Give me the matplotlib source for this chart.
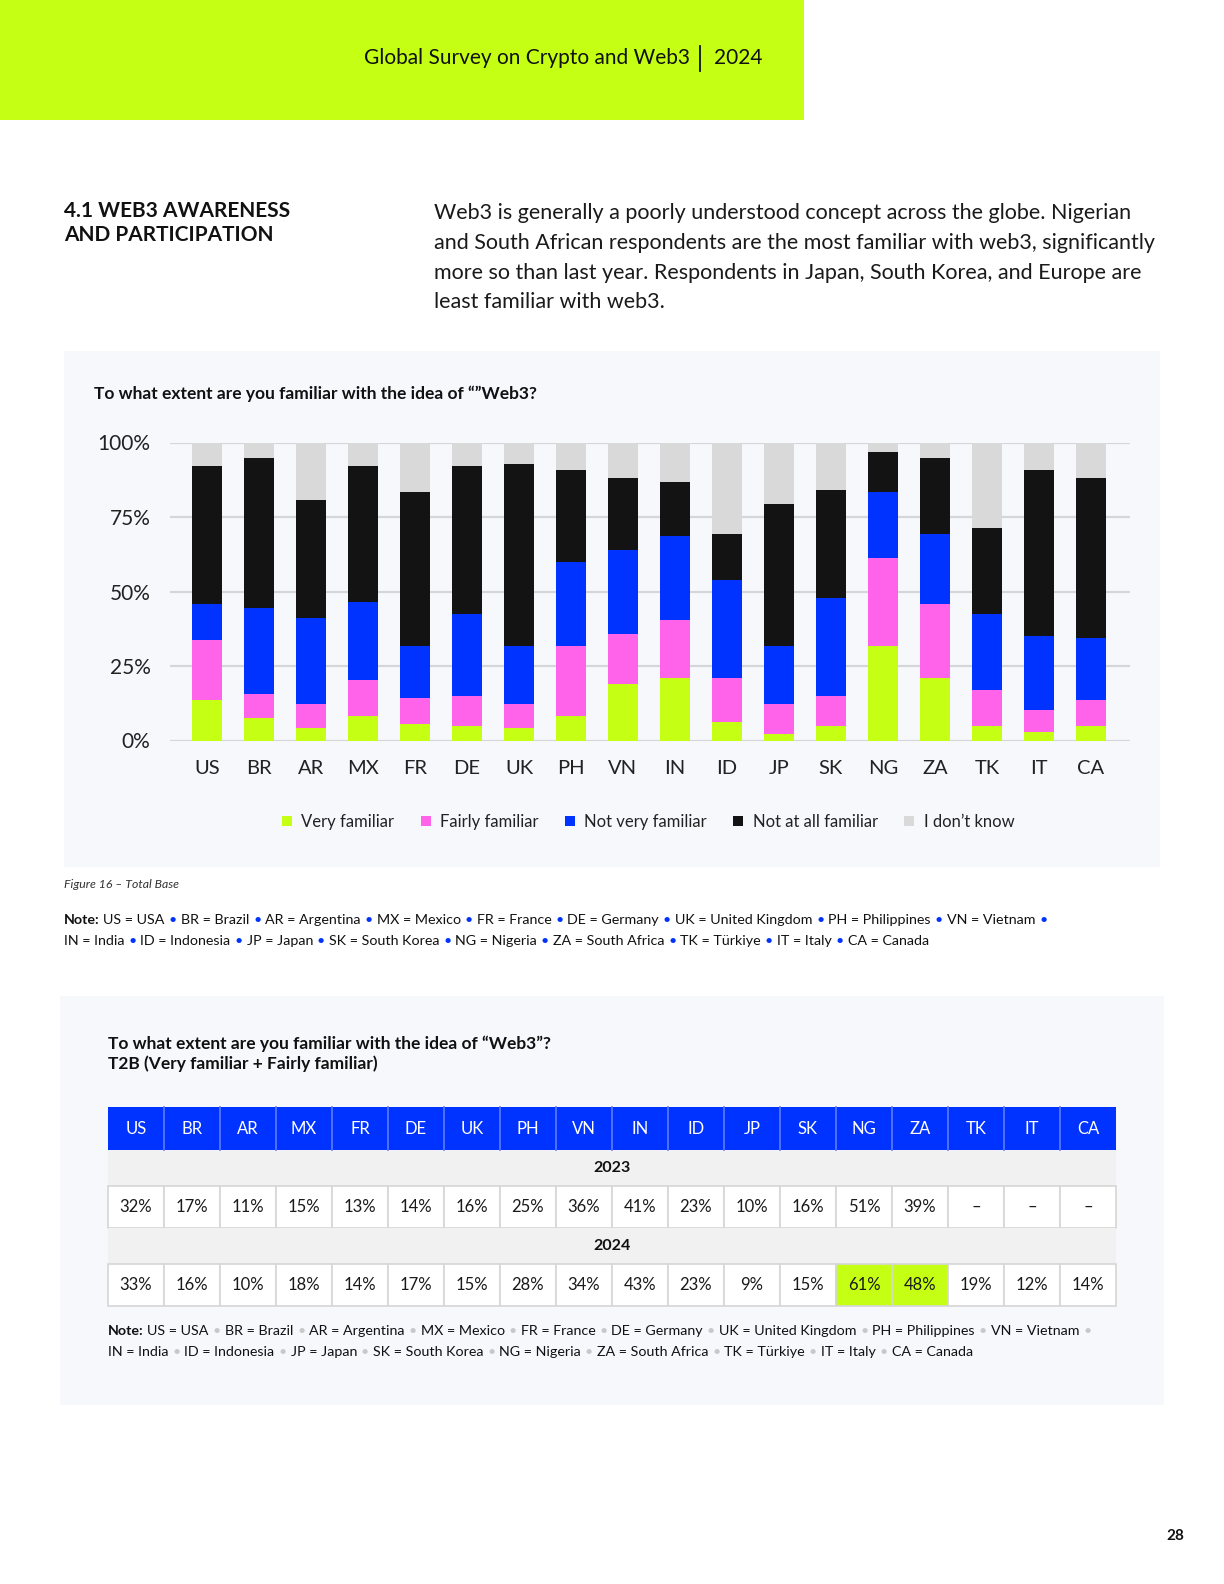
import numpy as np
import matplotlib
matplotlib.use("Agg")
from matplotlib import pyplot as plt
from matplotlib.patches import Rectangle

plt.rcParams['font.family'] = ['Lato', 'DejaVu Sans']

# data (percent of respondents)
countries = ['US', 'BR', 'AR', 'MX', 'FR', 'DE', 'UK', 'PH', 'VN',
             'IN', 'ID', 'JP', 'SK', 'NG', 'ZA', 'TK', 'IT', 'CA']
very_familiar = [13.6, 7.6, 4.3, 8.3, 5.6, 4.9, 4.3, 8.3, 19.0,
                 21.0, 6.3, 2.2, 4.9, 31.8, 21.0, 4.9, 2.9, 4.9]
fairly_familiar = [20.2, 8.1, 8.0, 12.1, 8.7, 10.1, 8.0, 23.5, 16.8,
                   19.5, 14.7, 10.1, 10.1, 29.5, 24.9, 12.1, 7.4, 8.7]
not_very_familiar = [12.1, 28.8, 28.9, 26.1, 17.5, 27.5, 19.5, 28.2, 28.2,
                     28.2, 32.9, 19.5, 32.9, 22.1, 23.5, 25.5, 24.8, 20.9]
not_at_all_familiar = [46.3, 50.4, 39.6, 45.7, 51.6, 49.7, 61.0, 30.8, 24.1,
                       18.1, 15.5, 47.6, 36.2, 13.5, 25.5, 28.9, 55.7, 53.6]
dont_know = [7.8, 5.1, 19.2, 7.8, 16.6, 7.8, 7.2, 9.2, 11.9,
             13.2, 30.6, 20.6, 15.9, 3.1, 5.1, 28.6, 9.2, 11.9]
series_names = ['Very familiar', 'Fairly familiar', 'Not very familiar',
                'Not at all familiar', 'I don\u2019t know']

t2b_2023 = ['32%', '17%', '11%', '15%', '13%', '14%', '16%', '25%', '36%',
            '41%', '23%', '10%', '16%', '51%', '39%', '\u2013', '\u2013', '\u2013']
t2b_2024 = ['33%', '16%', '10%', '18%', '14%', '17%', '15%', '28%', '34%',
            '43%', '23%', '9%', '15%', '61%', '48%', '19%', '12%', '14%']
highlight_2024 = ['NG', 'ZA']

note_line1 = ['US = USA', 'BR = Brazil', 'AR = Argentina', 'MX = Mexico', 'FR = France',
              'DE = Germany', 'UK = United Kingdom', 'PH = Philippines', 'VN = Vietnam']
note_line2 = ['IN = India', 'ID = Indonesia', 'JP = Japan', 'SK = South Korea', 'NG = Nigeria',
              'ZA = South Africa', 'TK = T\u00fcrkiye', 'IT = Italy', 'CA = Canada']

# colours
LIME = '#C4FF14'
PINK = '#FF63E9'
BLUE = '#0033FF'
BLACK = '#131313'
GREY = '#D9D9D9'
PANEL = '#F7F8FC'
series_colors = [LIME, PINK, BLUE, BLACK, GREY]

W, H = 1224, 1584
fig = plt.figure(figsize=(W / 100, H / 100), dpi=100)
fig.patch.set_facecolor('white')

# page overlay in pixel coordinates
page = fig.add_axes([0, 0, 1, 1])
page.set_xlim(0, W)
page.set_ylim(H, 0)
page.axis('off')

renderer = fig.canvas.get_renderer()


def rich_line(x, y, parts, size):
    # parts: (text, colour, weight); a normal space is put between parts
    gap = size * 1.389 * 0.27
    for txt, color, weight in parts:
        t = page.text(x, y, txt, color=color, fontweight=weight, fontsize=size,
                      va='center', ha='left')
        x += t.get_window_extent(renderer).width + gap


def note(x, y, line1, line2, bullet_color, size=10.25):
    parts = [('Note:', '#111111', 'bold')]
    for item in line1:
        parts.append((item, '#111111', 'normal'))
        parts.append(('\u2022', bullet_color, 'normal'))
    rich_line(x, y, parts, size)
    parts = []
    for i, item in enumerate(line2):
        if i:
            parts.append(('\u2022', bullet_color, 'normal'))
        parts.append((item, '#111111', 'normal'))
    rich_line(x, y + 21, parts, size)


# header band
page.add_patch(Rectangle((0, 0), 804, 120, color=LIME, lw=0))
page.text(690, 58, 'Global Survey on Crypto and Web3', fontsize=15, ha='right', va='center', color='#111111')
page.plot([700, 700], [46, 71], color='#111111', lw=1.3)
page.text(714, 58, '2024', fontsize=15, ha='left', va='center', color='#111111')

# section heading + intro
page.text(64, 211, '4.1 WEB3 AWARENESS', fontsize=15, fontweight='bold', va='center', color='#111111')
page.text(64, 235, 'AND PARTICIPATION', fontsize=15, fontweight='bold', va='center', color='#111111')
intro = ['Web3 is generally a poorly understood concept across the globe. Nigerian',
         'and South African respondents are the most familiar with web3, significantly',
         'more so than last year. Respondents in Japan, South Korea, and Europe are',
         'least familiar with web3.']
for i, line in enumerate(intro):
    page.text(434, 213 + i * 29.8, line, fontsize=15.5, va='center', color='#1a1a1a')

# chart panel
page.add_patch(Rectangle((64, 351), 1096, 516, color=PANEL, lw=0))
page.text(94, 394, 'To what extent are you familiar with the idea of \u201c\u201dWeb3?',
          fontsize=12.5, fontweight='bold', va='center', color='#111111')

ax = fig.add_axes([170 / W, 1 - 740.5 / H, 960 / W, 298 / H])
ax.set_facecolor('none')
x = np.arange(len(countries))
series = [very_familiar, fairly_familiar, not_very_familiar, not_at_all_familiar, dont_know]
bottom = np.zeros(len(countries))
for vals, name, col in zip(series, series_names, series_colors):
    ax.bar(x, vals, 0.577, bottom=bottom, color=col, label=name, zorder=3)
    bottom += np.array(vals)

ax.set_xlim(-0.71, 17.75)
ax.set_ylim(0, 100)
ax.set_yticks([0, 25, 50, 75, 100])
ax.set_yticklabels(['0%', '25%', '50%', '75%', '100%'], fontsize=15, color='#222222')
ax.set_xticks(x)
ax.set_xticklabels(countries, fontsize=14.5, color='#222222')
ax.tick_params(axis='y', length=0, pad=14)
ax.tick_params(axis='x', length=0, pad=14)
ax.yaxis.grid(True, color='#D5D6DA', lw=1.6, zorder=0)
ax.set_axisbelow(True)
for s in ax.spines.values():
    s.set_visible(False)

ax.legend(ncol=5, loc='center', bbox_to_anchor=(648 / W, 1 - 822 / H), bbox_transform=fig.transFigure,
          frameon=False, fontsize=12, handlelength=0.6, handleheight=0.6, handletextpad=0.55,
          columnspacing=1.6, labelcolor='#222222')

page.text(64, 885, 'Figure 16 \u2013 Total Base', fontsize=8.8, style='italic', va='center', color='#333333')
note(64, 920, note_line1, note_line2, BLUE)

# table panel
page.add_patch(Rectangle((60, 996), 1104, 409, color=PANEL, lw=0))
page.text(108, 1044, 'To what extent are you familiar with the idea of \u201cWeb3\u201d?',
          fontsize=12.5, fontweight='bold', va='center', color='#111111')
page.text(108, 1064, 'T2B (Very familiar + Fairly familiar)',
          fontsize=12.5, fontweight='bold', va='center', color='#111111')

tx0, cw = 108, 56
tw = cw * len(countries)
rows = [1107, 1150, 1186, 1228, 1264, 1306]
# header row
page.add_patch(Rectangle((tx0, rows[0]), tw, rows[1] - rows[0], color=BLUE, lw=0))
for i, c in enumerate(countries):
    cx = tx0 + i * cw
    if i:
        page.plot([cx, cx], [rows[0], rows[1]], color='#5C7CFF', lw=1.2)
    page.text(cx + cw / 2, (rows[0] + rows[1]) / 2, c, color='white', fontsize=12,
              ha='center', va='center')
# year label rows + value rows
for year, vals, r in [('2023', t2b_2023, 1), ('2024', t2b_2024, 3)]:
    page.add_patch(Rectangle((tx0, rows[r]), tw, rows[r + 1] - rows[r], color='#F1F1F1', lw=0))
    page.text(tx0 + tw / 2, (rows[r] + rows[r + 1]) / 2, year, fontsize=11.5, fontweight='bold',
              ha='center', va='center', color='#111111')
    top, bot = rows[r + 1], rows[r + 2]
    for i, (c, v) in enumerate(zip(countries, vals)):
        cx = tx0 + i * cw
        fc = LIME if (year == '2024' and c in highlight_2024) else 'white'
        page.add_patch(Rectangle((cx, top), cw, bot - top, facecolor=fc, edgecolor='#D6D6D6', lw=1.2))
        page.text(cx + cw / 2, (top + bot) / 2, v, fontsize=12, ha='center', va='center', color='#1a1a1a')

note(108, 1331, note_line1, note_line2, '#C8C8C8')

page.text(1184, 1536, '28', fontsize=11, fontweight='bold', ha='right', va='center', color='#111111')

fig.savefig('out.png', dpi=100)
